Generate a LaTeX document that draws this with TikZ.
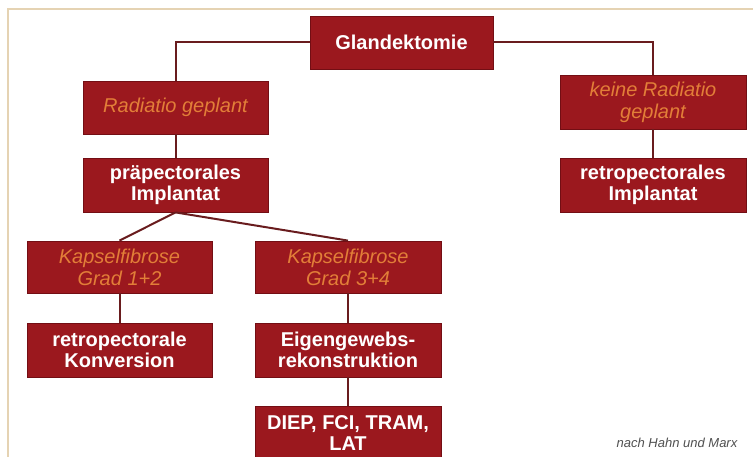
\documentclass[tikz,border=0pt]{standalone}
\usepackage{fontspec}
\setmainfont{Liberation Sans}
\definecolor{boxred}{RGB}{155,24,30}
\definecolor{boxedge}{RGB}{115,14,20}
\definecolor{condorange}{RGB}{226,126,56}
\definecolor{linkcol}{RGB}{105,28,30}
\definecolor{frame}{RGB}{229,211,179}
\definecolor{notegray}{RGB}{80,80,80}
\tikzset{
  box/.style={rectangle, fill=boxred, draw=boxedge, line width=0.8pt, align=center, inner sep=0pt},
  mainbox/.style={box, text=white, font=\bfseries\fontsize{20}{21.5}\selectfont},
  condbox/.style={box, text=condorange, font=\itshape\fontsize{20}{22}\selectfont},
  link/.style={draw=linkcol, line width=2pt},
}
\begin{document}
\begin{tikzpicture}[x=1pt,y=-1pt]
\useasboundingbox[fill=white] (0,0) rectangle (753,457);
\draw[frame, line width=2pt] (7.5,457) -- (7.5,9.5) -- (753,9.5);

\node[mainbox, minimum width=183pt, minimum height=53pt] (gl) at (401.5,42.5) {Glandektomie};
\node[condbox, minimum width=185pt, minimum height=53pt] (rad) at (175.5,107.5) {Radiatio geplant};
\node[mainbox, minimum width=185pt, minimum height=54pt] (prae) at (175.5,185) {präpectorales\\Implantat};
\node[condbox, minimum width=186pt, minimum height=54pt] (keine) at (653,102) {keine Radiatio\\geplant};
\node[mainbox, minimum width=186pt, minimum height=54pt] (retro) at (653,185) {retropectorales\\Implantat};
\node[condbox, minimum width=185pt, minimum height=52pt] (kap1) at (119.5,267) {Kapselfibrose\\Grad 1+2};
\node[condbox, minimum width=186pt, minimum height=52pt] (kap3) at (348,267) {Kapselfibrose\\Grad 3+4};
\node[mainbox, minimum width=185pt, minimum height=54pt] (konv) at (119.5,350) {retropectorale\\Konversion};
\node[mainbox, minimum width=186pt, minimum height=54pt] (eigen) at (348,350) {Eigengewebs-\\rekonstruktion};
\node[mainbox, minimum width=186pt, minimum height=54pt] (diep) at (348,433) {DIEP, FCI, TRAM,\\LAT};

\node[text=notegray, font=\itshape\fontsize{13}{15}\selectfont] (note) at (677,443) {nach Hahn und Marx};

\draw[link] (gl.west) -| (rad.north);
\draw[link] (gl.east) -| (keine.north);
\draw[link] (rad.south) -- (prae.north);
\draw[link] (keine.south) -- (retro.north);
\draw[link] (prae.south) -- (kap1.north);
\draw[link] (prae.south) -- (kap3.north);
\draw[link] (kap1.south) -- (konv.north);
\draw[link] (kap3.south) -- (eigen.north);
\draw[link] (eigen.south) -- (diep.north);
\end{tikzpicture}
\end{document}
